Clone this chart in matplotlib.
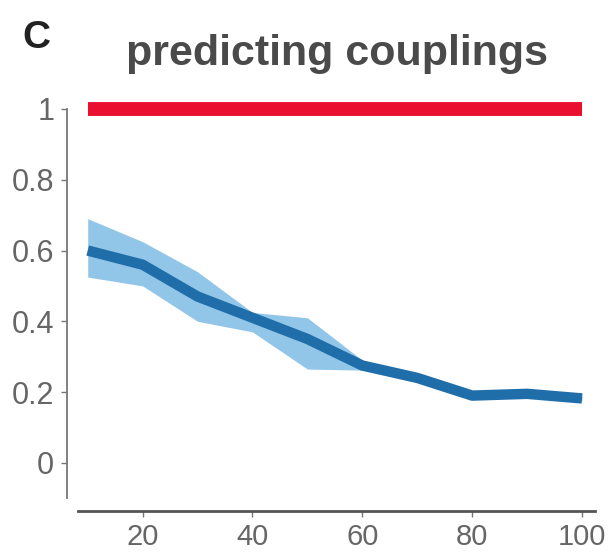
import matplotlib.pyplot as plt
import numpy as np

plt.rcParams['font.family'] = ['Liberation Sans', 'DejaVu Sans']

# data
n_obs = [10, 20, 30, 40, 50, 60, 70, 80, 90, 100]
mean_corr = [0.60, 0.56, 0.47, 0.41, 0.35, 0.275, 0.24, 0.19, 0.195, 0.182]
lower = [0.525, 0.50, 0.40, 0.37, 0.265, 0.262, 0.23, 0.183, 0.188, 0.176]
upper = [0.69, 0.625, 0.54, 0.425, 0.41, 0.29, 0.25, 0.198, 0.202, 0.188]
ref_level = [1.0, 1.0]
ref_x = [10, 100]

yticks = [0, 0.2, 0.4, 0.6, 0.8, 1]
yticklabels = ['0', '0.2', '0.4', '0.6', '0.8', '1']
xticks = [20, 40, 60, 80, 100]

fig = plt.figure(figsize=(6.13, 5.56), dpi=100)
ax = fig.add_axes([0.109, 0.081, 0.862, 0.723])

ax.plot(ref_x, ref_level, color='#ea0f2f', lw=10, solid_capstyle='butt',
        clip_on=False, zorder=3)
ax.fill_between(n_obs, lower, upper, color='#86c0e6', alpha=0.9, lw=0)
ax.plot(n_obs, mean_corr, color='#1f6eaa', lw=7.5, solid_capstyle='butt',
        solid_joinstyle='round')

ax.set_xlim(6.2, 102.4)
ax.set_ylim(-0.136, 1.0)
ax.set_xticks(xticks)
ax.set_yticks(yticks)
ax.set_yticklabels(yticklabels)

for s in ['top', 'right']:
    ax.spines[s].set_visible(False)
ax.spines['left'].set_bounds(-0.1, 1.0)
ax.spines['bottom'].set_bounds(8.2, 102.4)
ax.spines['left'].set_color('#777777')
ax.spines['bottom'].set_color('#555555')
ax.spines['left'].set_linewidth(1.3)
ax.spines['bottom'].set_linewidth(2.0)
ax.tick_params(colors='#777777', labelcolor='#666666', labelsize=22,
               length=4, width=1)
ax.tick_params(axis='y', pad=5)
ax.tick_params(axis='x', labelsize=21, pad=5)

fig.text(0.550, 0.883, 'predicting couplings', ha='center',
         va='baseline', fontsize=31, fontweight='bold', color='#4a4a4a')
fig.text(0.036, 0.913, 'C', ha='left', va='baseline', fontsize=28,
         fontweight='bold', color='#222222')

fig.savefig('out.png', dpi=100)
